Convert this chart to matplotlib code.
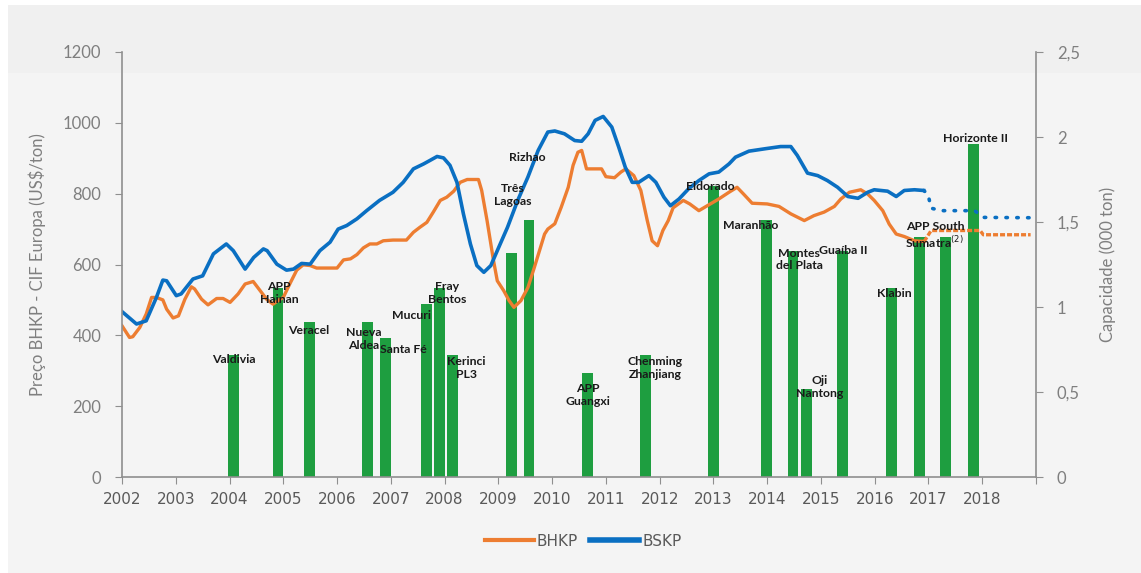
import matplotlib.pyplot as plt
import matplotlib.patches as mpatches
from matplotlib.lines import Line2D

# BHKP price (US$/ton)
bhkp_years = [2002.0, 2002.14, 2002.2, 2002.33, 2002.45, 2002.55, 2002.64, 2002.76, 2002.83, 2002.95,
              2003.05, 2003.17, 2003.29, 2003.35, 2003.48, 2003.6, 2003.76, 2003.88, 2004.01, 2004.16,
              2004.29, 2004.44, 2004.57, 2004.69, 2004.81, 2004.92, 2005.0, 2005.12, 2005.25, 2005.37,
              2005.5, 2005.62, 2006.0, 2006.12, 2006.25, 2006.37, 2006.49, 2006.61, 2006.74, 2006.86,
              2007.04, 2007.29, 2007.42, 2007.54, 2007.67, 2007.79, 2007.92, 2008.04, 2008.17, 2008.29,
              2008.42, 2008.63, 2008.69, 2008.79, 2008.91, 2008.98, 2009.1, 2009.2, 2009.29, 2009.42,
              2009.55, 2009.67, 2009.86, 2009.92, 2010.05, 2010.17, 2010.3, 2010.39, 2010.48, 2010.55,
              2010.64, 2010.8, 2010.92, 2011.0, 2011.16, 2011.28, 2011.37, 2011.52, 2011.65, 2011.77,
              2011.86, 2011.96, 2012.06, 2012.16, 2012.25, 2012.44, 2012.56, 2012.73, 2012.92, 2013.1,
              2013.29, 2013.44, 2013.56, 2013.72, 2014.0, 2014.22, 2014.44, 2014.69, 2014.87, 2015.06,
              2015.25, 2015.37, 2015.53, 2015.74, 2015.87, 2015.99, 2016.15, 2016.27, 2016.4, 2016.55,
              2016.74, 2016.92]
bhkp = [427, 394, 396, 422, 460, 507, 507, 500, 474, 449,
        455, 502, 537, 531, 502, 486, 504, 504, 493, 517,
        545, 552, 526, 502, 488, 500, 507, 545, 584, 599,
        597, 590, 590, 613, 616, 628, 647, 658, 658, 667,
        669, 669, 691, 705, 719, 748, 781, 790, 807, 832,
        840, 840, 809, 724, 611, 554, 526, 498, 479, 498,
        535, 592, 686, 700, 715, 762, 818, 880, 917, 922,
        870, 870, 870, 848, 845, 861, 870, 851, 809, 724,
        667, 653, 696, 724, 760, 781, 771, 752, 769, 785,
        804, 818, 799, 773, 771, 764, 743, 724, 738, 748,
        764, 785, 804, 811, 799, 781, 752, 714, 686, 679,
        667, 665]
bhkp_fc_years = [2016.92, 2017.05, 2017.96, 2018.02, 2018.9]
bhkp_fc = [665, 696, 696, 684, 684]

# BSKP price (US$/ton)
bskp_years = [2002.0, 2002.27, 2002.45, 2002.64, 2002.76, 2002.83, 2003.01, 2003.1, 2003.32, 2003.5,
              2003.7, 2003.94, 2004.07, 2004.29, 2004.45, 2004.63, 2004.7, 2004.88, 2005.06, 2005.19,
              2005.34, 2005.5, 2005.68, 2005.87, 2006.02, 2006.18, 2006.37, 2006.55, 2006.79, 2007.04,
              2007.23, 2007.42, 2007.61, 2007.73, 2007.86, 2007.98, 2008.1, 2008.23, 2008.35, 2008.48,
              2008.6, 2008.73, 2008.86, 2008.98, 2009.17, 2009.36, 2009.55, 2009.74, 2009.92, 2010.05,
              2010.23, 2010.42, 2010.55, 2010.67, 2010.8, 2010.95, 2011.11, 2011.24, 2011.36, 2011.49,
              2011.61, 2011.8, 2011.93, 2012.08, 2012.2, 2012.36, 2012.54, 2012.73, 2012.92, 2013.1,
              2013.29, 2013.41, 2013.66, 2013.97, 2014.25, 2014.44, 2014.56, 2014.75, 2014.94, 2015.12,
              2015.31, 2015.5, 2015.69, 2015.87, 2015.99, 2016.24, 2016.4, 2016.55, 2016.74, 2016.91]
bskp = [467, 432, 441, 507, 556, 554, 512, 517, 559, 568,
        630, 658, 639, 587, 620, 644, 639, 601, 584, 587,
        603, 601, 639, 663, 700, 710, 729, 752, 781, 804,
        832, 870, 884, 894, 905, 901, 880, 832, 743, 658,
        597, 578, 597, 639, 705, 781, 847, 922, 974, 977,
        969, 950, 948, 969, 1007, 1018, 988, 931, 875, 832,
        832, 851, 832, 790, 766, 785, 814, 837, 856, 861,
        884, 903, 920, 927, 933, 933, 908, 858, 851, 837,
        818, 792, 787, 804, 811, 807, 792, 809, 811, 809]
bskp_fc_years = [2016.91, 2016.99, 2017.05, 2017.24, 2017.86, 2018.02, 2018.94]
bskp_fc = [809, 799, 759, 752, 752, 733, 732]

# new capacity (million ton)
mills = ["Valdivia", "APP\nHainan", "Veracel", "Nueva\nAldea", "Santa Fé", "Mucuri", "Fray\nBentos",
         "Kerinci\nPL3", "Rizhao", "Três\nLagoas", "APP\nGuangxi", "Chenming\nZhanjiang", "Eldorado",
         "Maranhão", "Montes\ndel Plata", "Oji\nNantong", "Guaíba II", "Klabin", "APP South\nSumatra$^{(2)}$",
         "", "Horizonte II"]
mill_years = [2004.08, 2004.9, 2005.49, 2006.57, 2006.9, 2007.67, 2007.91, 2008.15, 2009.24, 2009.57,
              2010.66, 2011.73, 2013.0, 2013.99, 2014.48, 2014.73, 2015.4, 2016.31, 2016.83, 2017.32,
              2017.84]
capacity = [0.72, 1.11, 0.91, 0.91, 0.82, 1.02, 1.11, 0.72, 1.32, 1.51,
            0.61, 0.72, 1.71, 1.51, 1.33, 0.52, 1.33, 1.11, 1.41, 1.41,
            1.96]

# label anchor positions (year, capacity units)
label_pos = [(2004.08, 0.69), (2004.92, 1.08), (2005.48, 0.86), (2006.5, 0.81), (2007.23, 0.75),
             (2007.38, 0.95), (2008.05, 1.08), (2008.4, 0.64), (2009.53, 1.88), (2009.27, 1.66),
             (2010.67, 0.48), (2011.91, 0.64), (2012.94, 1.71), (2013.7, 1.48), (2014.6, 1.28),
             (2014.98, 0.53), (2015.41, 1.33), (2016.36, 1.08), (2017.12, 1.42), (2017.3, 1.42),
             (2017.87, 1.99)]

orange = "#ED7D31"
blue = "#0A6FC2"
green = "#1E9E40"
tick_gray = "#595959"

fig = plt.figure(figsize=(11.41, 5.73), dpi=100, facecolor="white")
fig.patches.append(mpatches.Rectangle((8 / 1141, 0), 1, 1 - 5 / 573, transform=fig.transFigure,
                                      facecolor="#f4f4f4", edgecolor="none", zorder=-10))
fig.patches.append(mpatches.Rectangle((8 / 1141, 1 - 73 / 573), 1, 68 / 573, transform=fig.transFigure,
                                      facecolor="#f0f0f0", edgecolor="none", zorder=-9))

ax = fig.add_axes([122 / 1141, 1 - 477 / 573, 914 / 1141, 425 / 573])
ax2 = ax.twinx()

ax2.bar(mill_years, capacity, width=0.2, color=green, zorder=1)

ax.plot(bhkp_years, bhkp, color=orange, lw=2.4, solid_joinstyle="round")
ax.plot(bhkp_fc_years, bhkp_fc, color=orange, lw=2.4, linestyle=(0, (1.5, 0.6)))
ax.plot(bskp_years, bskp, color=blue, lw=2.6, solid_joinstyle="round")
ax.plot(bskp_fc_years, bskp_fc, color=blue, lw=2.6, linestyle=(0, (0.4, 2.6)), dash_capstyle="round")

ax.set_zorder(ax2.get_zorder() + 1)
ax.patch.set_visible(False)

for name, (lx, ly) in zip(mills, label_pos):
    if name:
        ax.text(lx, ly, name, transform=ax2.transData, ha="center", va="center", fontsize=8.8,
                family="Lato", fontweight="bold", color="#1a1a1a", linespacing=1.2, zorder=10)

ax.set_xlim(2002, 2019)
ax.set_ylim(0, 1200)
ax2.set_ylim(0, 2.5)
ax.set_xticks(range(2002, 2020))
ax.set_xticklabels([str(y) for y in range(2002, 2019)] + [""])
ax.set_yticks(range(0, 1201, 200))
ax2.set_yticks([0, 0.5, 1, 1.5, 2, 2.5])
ax2.set_yticklabels(["0", "0,5", "1", "1,5", "2", "2,5"])

for a in (ax, ax2):
    a.spines["top"].set_visible(False)
    for s in ("left", "right", "bottom"):
        a.spines[s].set_color("#8f8f8f")
        a.spines[s].set_linewidth(1.2)
ax.spines["right"].set_visible(False)
ax2.spines["left"].set_visible(False)
ax2.spines["bottom"].set_visible(False)

ax.tick_params(axis="x", length=5, color="#8f8f8f", labelsize=11, labelcolor=tick_gray, pad=6)
ax.tick_params(axis="y", length=5, color="#8f8f8f", labelsize=12, labelcolor="#7f7f7f", pad=10)
ax2.tick_params(axis="y", length=5, color="#8f8f8f", labelsize=12, labelcolor="#7f7f7f", pad=10)
for lab in ax.get_xticklabels():
    lab.set_family(["Liberation Sans Narrow", "DejaVu Sans"])
for lab in ax.get_yticklabels() + ax2.get_yticklabels():
    lab.set_family("Lato")

ax.set_ylabel("Preço BHKP - CIF Europa (US$/ton)", family="Lato", fontsize=12, color="#7f7f7f", labelpad=12)
ax2.set_ylabel("Capacidade (000 ton)", family="Lato", fontsize=12, color="#7f7f7f", labelpad=14)

handles = [Line2D([], [], color=orange, lw=3), Line2D([], [], color=blue, lw=4)]
fig.legend(handles, ["BHKP", "BSKP"], loc="center", bbox_to_anchor=(0.511, 1 - 541 / 573), ncol=2,
           frameon=False, handlelength=3.2, handletextpad=0.2, columnspacing=0.8,
           prop={"family": ["Liberation Sans Narrow", "DejaVu Sans"], "size": 11}, labelcolor=tick_gray)

fig.savefig("out.png", dpi=100, facecolor=fig.get_facecolor())
